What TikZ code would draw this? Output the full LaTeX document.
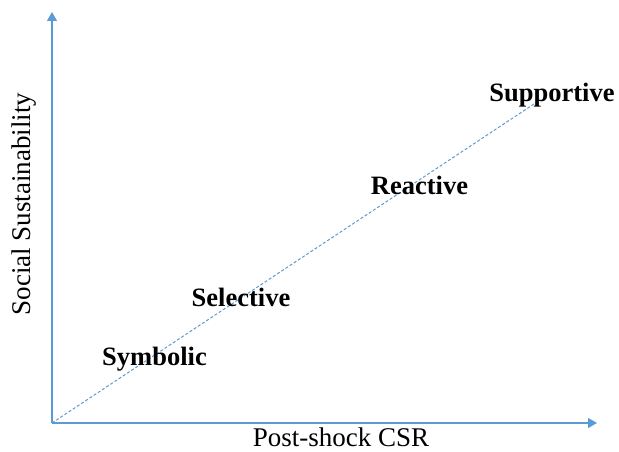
\documentclass[tikz,border=0pt]{standalone}
\usepackage{fontspec}
\setmainfont{Liberation Serif}
\usetikzlibrary{arrows.meta}
\definecolor{axisblue}{RGB}{91,155,213}
\tikzset{
  axisline/.style={draw=axisblue, line width=1.2pt, -{Triangle[length=9pt,width=10pt]}},
  diagline/.style={draw=axisblue, line width=1pt, dash pattern=on 3pt off 2pt},
  stagelabel/.style={anchor=base, inner sep=0pt, font=\fontsize{26.5}{30}\selectfont\bfseries},
  axislabel/.style={anchor=base, inner sep=0pt, font=\fontsize{27}{30}\selectfont}
}
\begin{document}
\begin{tikzpicture}[x=1pt,y=1pt]
\useasboundingbox (0,0) rectangle (619,452);
\coordinate (o) at (52,29);
\coordinate (ytip) at (52,440);
\coordinate (xtip) at (597,29);
\coordinate (dend) at (540,352);
\draw[diagline] (o) -- (dend);
\draw[axisline] (o) -- (ytip);
\draw[axisline] (o) -- (xtip);
\node[stagelabel] (sup) at (552,350) {Supportive};
\node[stagelabel] (rea) at (419.5,257) {Reactive};
\node[stagelabel] (sel) at (241,145) {Selective};
\node[stagelabel] (sym) at (154.5,86) {Symbolic};
\node[axislabel] (xl) at (341,5) {Post-shock CSR};
\node[axislabel, rotate=90] (yl) at (31,248) {Social Sustainability};
\end{tikzpicture}
\end{document}
